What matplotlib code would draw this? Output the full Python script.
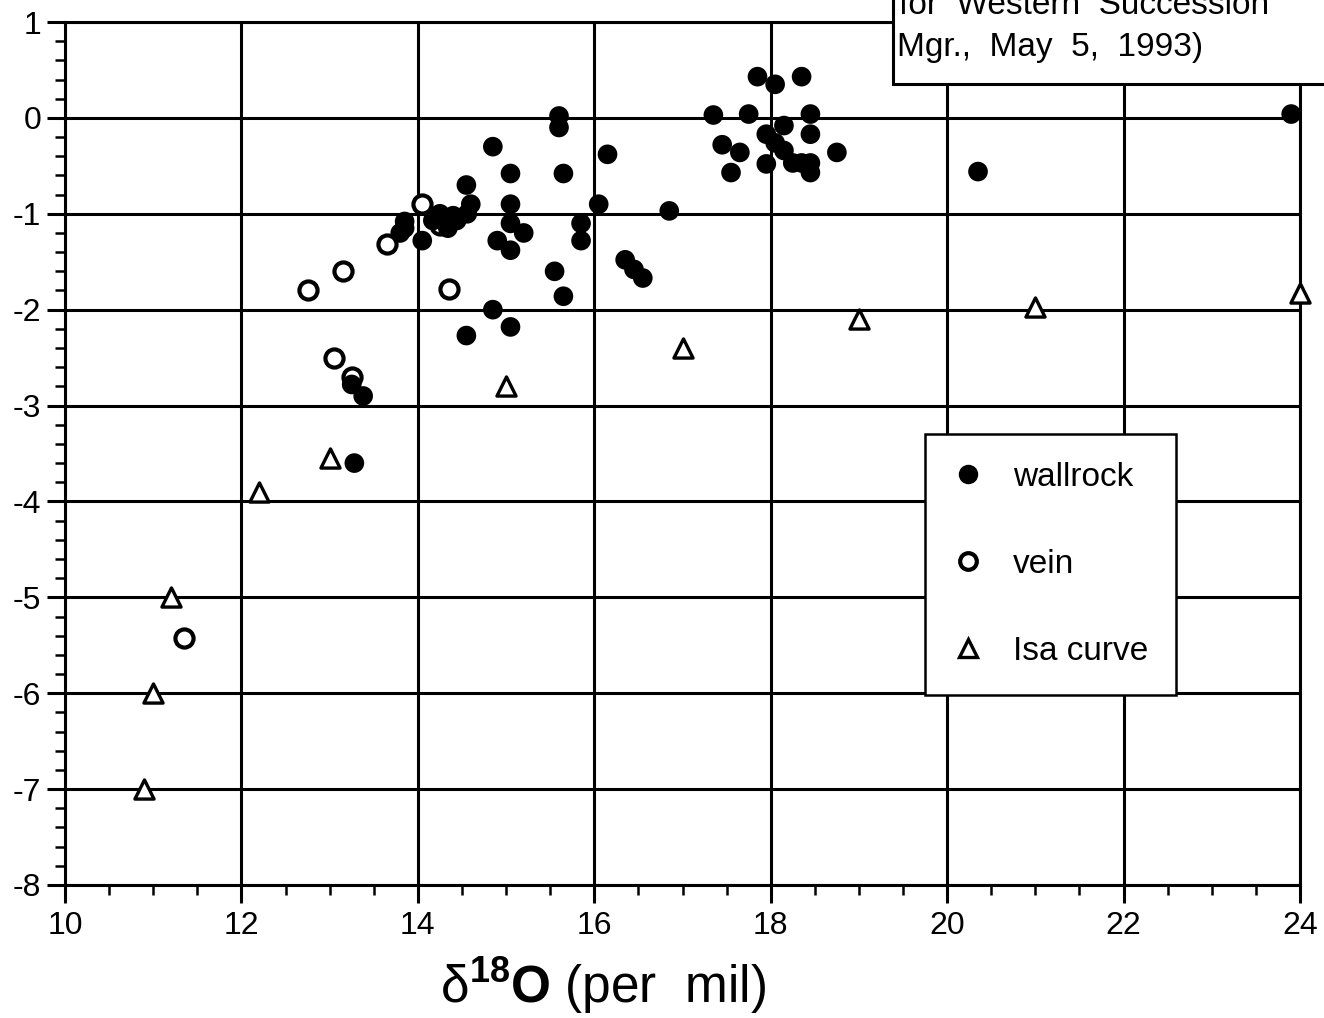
import matplotlib
matplotlib.use('Agg')
from matplotlib import pyplot as plt
from matplotlib.lines import Line2D
from matplotlib.patches import Rectangle
import numpy as np

# wallrock samples (filled circles)
wall_x = [15.6, 15.6, 14.85, 15.05, 15.65, 16.15, 14.55, 14.6, 15.05, 16.05,
          16.85, 15.05, 15.2, 14.9, 15.05, 15.85, 15.85, 15.55, 15.65, 16.35,
          16.45, 16.55, 14.85, 15.05, 14.55, 14.05,
          14.17, 14.25, 14.44, 14.56, 14.34, 14.4,
          13.85, 13.8, 13.85,
          13.25, 13.38, 13.28,
          17.85, 18.05, 18.35, 17.35, 17.75, 18.45, 18.15, 18.45, 17.95, 17.45,
          17.65, 18.75, 17.55, 17.95, 18.05, 18.15, 18.25, 18.35, 18.45, 18.45,
          20.35, 23.9]
wall_y = [0.02, -0.1, -0.3, -0.58, -0.58, -0.38, -0.7, -0.9, -0.9, -0.9,
          -0.97, -1.1, -1.2, -1.28, -1.38, -1.1, -1.28, -1.6, -1.86, -1.48,
          -1.58, -1.67, -2.0, -2.18, -2.27, -1.28,
          -1.07, -1.0, -1.07, -1.0, -1.15, -1.02,
          -1.08, -1.2, -1.15,
          -2.78, -2.9, -3.6,
          0.43, 0.35, 0.43, 0.03, 0.04, 0.04, -0.08, -0.17, -0.17, -0.28,
          -0.36, -0.36, -0.57, -0.48, -0.26, -0.34, -0.47, -0.47, -0.47, -0.57,
          -0.56, 0.04]

# vein samples (open circles)
vein_x = [12.75, 13.15, 13.65, 14.05, 14.35, 13.05, 13.25, 11.35, 14.25]
vein_y = [-1.79, -1.6, -1.31, -0.9, -1.78, -2.5, -2.7, -5.42, -1.12]

# Isa curve (open triangles)
isa_x = [10.9, 11.0, 11.2, 12.2, 13.0, 15.0, 17.0, 19.0, 21.0, 24.0]
isa_y = [-7.0, -6.0, -5.0, -3.9, -3.55, -2.8, -2.4, -2.1, -1.97, -1.83]

plt.rcParams['font.family'] = ['Liberation Sans', 'DejaVu Sans']
plt.rcParams['mathtext.fontset'] = 'custom'
plt.rcParams['mathtext.rm'] = 'Liberation Sans'
plt.rcParams['mathtext.bf'] = 'Liberation Sans:bold'
plt.rcParams['axes.unicode_minus'] = False

fig = plt.figure(figsize=(13.24, 10.18), dpi=100)
ax = fig.add_axes([65 / 1324, 133 / 1018, 1235 / 1324, 863 / 1018])

ax.set_xlim(10, 24)
ax.set_ylim(-8, 1)
ax.set_xticks(np.arange(10, 25, 2))
ax.set_xticks(np.arange(10, 24.01, 0.5), minor=True)
ax.set_yticks(np.arange(-8, 1.01, 1))
ax.set_yticks(np.arange(-8, 1.01, 0.2), minor=True)

ax.grid(True, which='major', color='black', lw=2.2)
ax.set_axisbelow(True)
for s in ax.spines.values():
    s.set_linewidth(2.2)
ax.tick_params(which='major', direction='out', length=13, width=2.2,
               labelsize=23)
ax.tick_params(axis='y', which='major', pad=4)
ax.tick_params(axis='x', which='major', pad=6)
ax.tick_params(which='minor', direction='out', length=7, width=1.8)

ax.scatter(vein_x, vein_y, s=170, facecolors='white', edgecolors='black',
           linewidths=3, zorder=3, clip_on=False)
ax.scatter(wall_x, wall_y, s=200, c='black', edgecolors='none', zorder=4,
           clip_on=False)
ax.scatter(isa_x, isa_y, s=190, marker='^', facecolors='white',
           edgecolors='black', linewidths=2.4, zorder=4, clip_on=False)

handles = [Line2D([], [], ls='none', marker='o', ms=13, mfc='black', mec='black'),
           Line2D([], [], ls='none', marker='o', ms=12, mfc='white', mec='black', mew=3),
           Line2D([], [], ls='none', marker='^', ms=13, mfc='white', mec='black', mew=2.4)]
leg = ax.legend(handles, ['wallrock', 'vein', 'Isa curve'], loc='upper left',
                bbox_to_anchor=(0.696, 0.5226), borderaxespad=0, fontsize=24,
                frameon=True, fancybox=False, edgecolor='black', framealpha=1,
                borderpad=0.84, labelspacing=1.68, handlelength=0.9,
                handletextpad=0.9)
leg.get_frame().set_linewidth(1.8)
leg.set_zorder(6)

fig.text(603 / 1324, 1 - 986 / 1018,
         r'δ$^{\mathbf{18}}$$\mathbf{O}$ (per  mil)',
         ha='center', va='center', fontsize=37)

# note box at the top right, partly outside the page
box = Rectangle((893 / 1324, 1 - 84 / 1018), 0.5, 0.2, transform=fig.transFigure,
                facecolor='white', edgecolor='black', lw=2.2, zorder=5)
fig.add_artist(box)
fig.text(899 / 1324, 1 - 14 / 1018, 'for  Western  Succession',
         ha='left', va='baseline', fontsize=24, zorder=6)
fig.text(897 / 1324, 1 - 56 / 1018, 'Mgr.,  May  5,  1993)',
         ha='left', va='baseline', fontsize=24, zorder=6)

plt.savefig('out.png', dpi=100)
